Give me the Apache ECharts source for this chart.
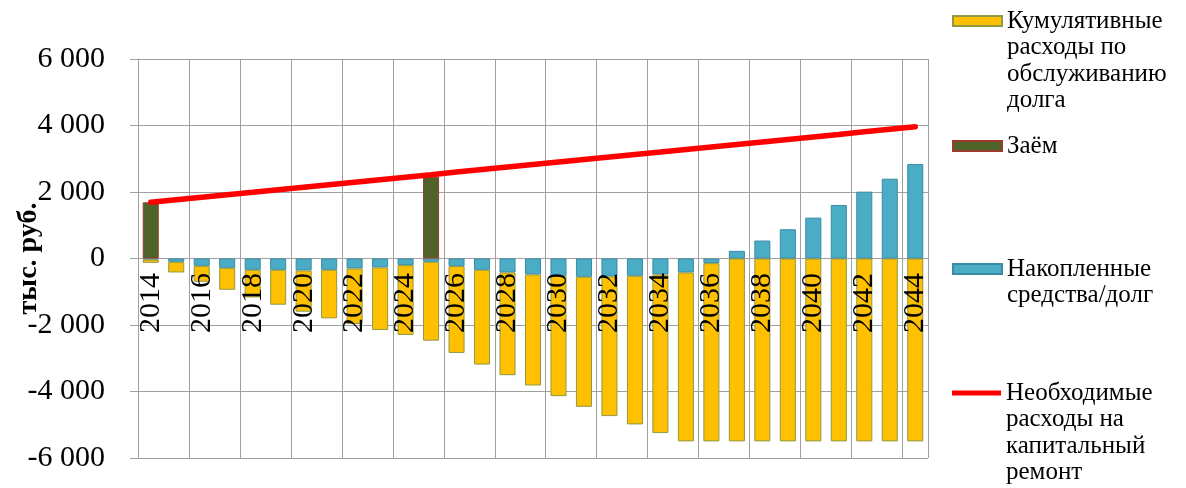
<!DOCTYPE html>
<html>
<head>
<meta charset="utf-8">
<script src="https://cdn.jsdelivr.net/npm/echarts@6/dist/echarts.min.js"></script>
<style>
  body { margin: 0; background: #fff; }
  #chart { width: 1186px; height: 488px; }
</style>
</head>
<body>
<div id="chart"></div>
<script>
// годы
var years = ['2014', '2015', '2016', '2017', '2018', '2019', '2020', '2021', '2022', '2023', '2024',
  '2025', '2026', '2027', '2028', '2029', '2030', '2031', '2032', '2033', '2034',
  '2035', '2036', '2037', '2038', '2039', '2040', '2041', '2042', '2043', '2044'];

// Накопленные средства/долг
var funds = [-30, -100, -220, -280, -340, -340, -360, -340, -300, -270, -200,
  -100, -230, -340, -420, -480, -520, -550, -540, -520, -480,
  -420, -140, 230, 540, 880, 1230, 1610, 2010, 2400, 2840];

// Кумулятивные расходы по обслуживанию долга
var expenses = [-100, -320, -480, -660, -830, -1050, -1240, -1460, -1670, -1880, -2100,
  -2370, -2610, -2850, -3090, -3340, -3620, -3910, -4200, -4470, -4770,
  -5080, -5360, -5500, -5500, -5500, -5500, -5500, -5500, -5500, -5500];

// Заём
var loan = [1690, '-', '-', '-', '-', '-', '-', '-', '-', '-', '-',
  2460, '-', '-', '-', '-', '-', '-', '-', '-', '-',
  '-', '-', '-', '-', '-', '-', '-', '-', '-', '-'];

// Необходимые расходы на капитальный ремонт
var repair = [1690, 1765, 1840, 1915, 1990, 2070, 2145, 2220, 2295, 2370, 2445,
  2520, 2600, 2675, 2750, 2825, 2900, 2975, 3050, 3125, 3200,
  3280, 3355, 3430, 3505, 3580, 3655, 3730, 3810, 3885, 3960];

var yTicks = [-6000, -4000, -2000, 0, 2000, 4000, 6000];

var serif = '"Liberation Serif", "Times New Roman", serif';

var names = {
  exp: 'Кумулятивные расходы по обслуживанию долга',
  loan: 'Заём',
  funds: 'Накопленные средства/долг',
  repair: 'Необходимые расходы на капитальный ремонт'
};
var wrapped = {};
wrapped[names.exp] = 'Кумулятивные\nрасходы по\nобслуживанию\nдолга';
wrapped[names.loan] = 'Заём';
wrapped[names.funds] = 'Накопленные\nсредства/долг';
wrapped[names.repair] = 'Необходимые\nрасходы на\nкапитальный\nремонт';

var LH = 26.5;
var IW = 49;

// иконка напротив первой строки: рамка пути = вся высота текста
function iconPath(lines, thick) {
  var h = LH * lines;
  var y = LH / 2 - thick / 2;
  return 'path://M0,0M' + IW + ',' + h +
    'M0,' + y + 'h' + IW + 'v' + thick + 'h-' + IW + 'Z';
}

function legendFor(name, firstLineY, lines, thick) {
  return {
    data: [name],
    left: 952,
    top: firstLineY - LH / 2,
    orient: 'vertical',
    padding: 0,
    itemWidth: IW,
    itemHeight: LH * lines,
    itemGap: 0,
    icon: iconPath(lines, thick),
    selectedMode: false,
    formatter: function (n) { return wrapped[n]; },
    textStyle: {
      fontFamily: serif,
      fontSize: 25,
      color: '#000',
      lineHeight: LH
    }
  };
}

var chart = echarts.init(document.getElementById('chart'));

chart.setOption({
  animation: false,
  grid: { left: 138, right: 258, top: 59, bottom: 30, containLabel: false, outerBoundsMode: 'none' },
  legend: [
    legendFor(names.exp, 20, 4, 10),
    legendFor(names.loan, 145, 1, 10),
    legendFor(names.funds, 268, 2, 10),
    legendFor(names.repair, 393, 4, 5)
  ],
  xAxis: [
    {
      // сетка по годам, под столбиками
      type: 'category',
      data: years,
      position: 'top',
      axisLine: { show: false, onZero: false },
      axisTick: { show: false },
      axisLabel: { show: false },
      splitLine: { show: true, lineStyle: { color: '#A0A0A0', width: 1 } }
    },
    {
      // подписи лет у нулевой линии, поверх столбиков
      type: 'category',
      data: years,
      position: 'bottom',
      z: 10,
      axisLine: { show: false, onZero: false },
      axisTick: { show: false },
      splitLine: { show: false },
      axisLabel: {
        interval: 1,
        rotate: 90,
        margin: -185,
        fontFamily: serif,
        fontSize: 30,
        color: '#000'
      }
    }
  ],
  yAxis: {
    type: 'value',
    min: yTicks[0],
    max: yTicks[yTicks.length - 1],
    interval: 2000,
    name: 'тыс. руб.',
    nameLocation: 'middle',
    nameRotate: 90,
    nameGap: 95,
    nameMoveOverlap: false,
    nameTextStyle: { fontFamily: serif, fontSize: 28, fontWeight: 'bold', color: '#000' },
    axisLine: { show: true, lineStyle: { color: '#A0A0A0' } },
    axisTick: { show: true, length: 8, lineStyle: { color: '#A0A0A0' } },
    axisLabel: {
      margin: 33,
      fontFamily: serif,
      fontSize: 30,
      color: '#000',
      formatter: function (v) {
        var s = String(Math.abs(v));
        if (s.length > 3) s = s.slice(0, s.length - 3) + ' ' + s.slice(-3);
        return (v < 0 ? '-' : '') + s;
      }
    },
    splitLine: { show: true, lineStyle: { color: '#A0A0A0', width: 1 } }
  },
  series: [
    {
      name: names.funds,
      type: 'bar',
      stack: 'total',
      barWidth: '63%',
      data: funds,
      itemStyle: { color: '#4BACC6', borderColor: '#3A8CA5', borderWidth: 1 }
    },
    {
      name: names.exp,
      type: 'bar',
      stack: 'total',
      data: expenses,
      itemStyle: { color: '#FFC000', borderColor: '#8F9A45', borderWidth: 1 }
    },
    {
      name: names.loan,
      type: 'bar',
      stack: 'total',
      data: loan,
      itemStyle: { color: '#4F6228', borderColor: '#9B3B30', borderWidth: 1 }
    },
    {
      name: names.repair,
      type: 'line',
      data: repair,
      showSymbol: false,
      symbol: 'none',
      z: 5,
      itemStyle: { color: '#FF0000', borderWidth: 0 },
      lineStyle: { color: '#FF0000', width: 5.5, cap: 'round' }
    }
  ]
});
</script>
</body>
</html>
